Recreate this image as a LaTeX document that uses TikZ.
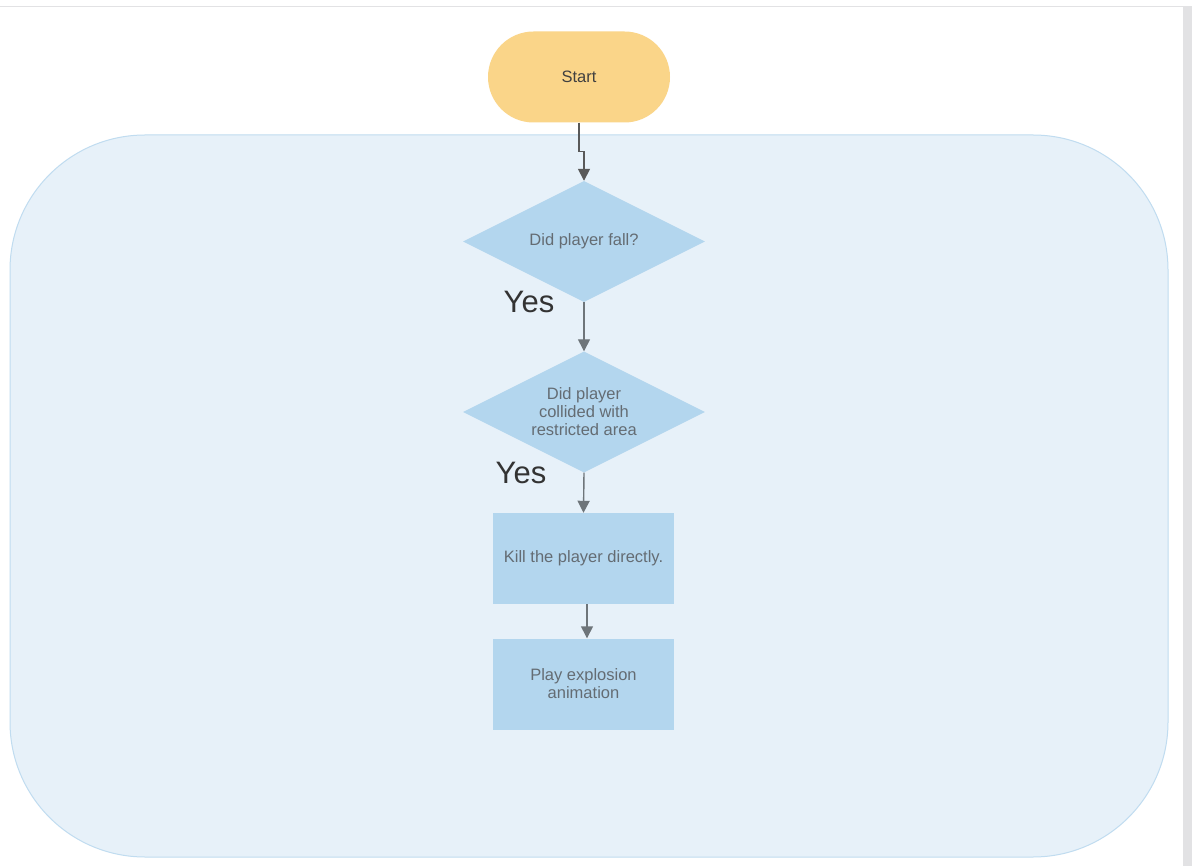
\documentclass[tikz,border=0pt]{standalone}
\usepackage{fontspec}
\setmainfont{Liberation Sans}
\usetikzlibrary{arrows.meta,shapes.geometric}
\definecolor{startfill}{HTML}{FAD589}
\definecolor{boxfill}{HTML}{B3D6EE}
\definecolor{areafill}{HTML}{E7F1F9}
\definecolor{arealine}{HTML}{C0DCF0}
\definecolor{labeltext}{HTML}{646C73}
\definecolor{linkcol}{HTML}{6E757A}
\definecolor{framegray}{HTML}{E2E2E4}
\begin{document}
\begin{tikzpicture}[x=1pt,y=-1pt,
  every node/.style={font=\fontsize{16.5}{19}\selectfont, text=labeltext, align=center},
  area/.style={draw=arealine, line width=1pt, fill=areafill, rounded corners=135pt,
    minimum width=1158pt, minimum height=722pt, inner sep=0pt},
  terminal/.style={fill=startfill, rounded corners=45.5pt, minimum width=182pt,
    minimum height=91pt, inner sep=0pt, text=black!75},
  decision/.style={diamond, fill=boxfill, minimum width=242pt, minimum height=121pt,
    inner sep=0pt, shape aspect=2},
  process/.style={rectangle, fill=boxfill, minimum width=181pt, minimum height=91pt,
    inner sep=0pt},
  answer/.style={font=\fontsize{31}{36}\selectfont, text=black!80, inner sep=0pt},
  link/.style={draw=linkcol, line width=1.4pt, -{Triangle[length=12pt,width=12pt]}},
]
\useasboundingbox (0,0) rectangle (1192,866);
\fill[white] (0,0) rectangle (1192,866);
% page frame: top rule and right scrollbar strip
\fill[framegray] (1183,6) rectangle (1192,866);
\draw[framegray, line width=1.2pt] (0,6.5) -- (1183,6.5);

% container
\node[area] (area) at (589,496) {};

% flow nodes
\node[terminal] (start) at (579,77) {Start};
\node[decision] (fall) at (584,241.5) {Did player fall?};
\node[decision] (hit) at (584,412) {Did player\\[-1pt]collided with\\[-1pt]restricted area};
\node[process] (kill) at (583.5,558.5) {\raisebox{-2pt}{Kill the player directly.}};
\node[process] (boom) at (583.5,684) {Play explosion\\[-1pt]animation};

% branch labels
\node[answer] (yes1) at (529,302) {Yes};
\node[answer] (yes2) at (521,473) {Yes};

% connectors
\draw[link, draw=black!65, line width=1.6pt] (start.south) -- ++(0,29) -| (fall.north);
\draw[link] (fall.south) -- (hit.north);
\draw[link] (hit.south) -- (kill.north);
\draw[link] ([xshift=3.5pt]kill.south) -- ([xshift=3.5pt]boom.north);
\end{tikzpicture}
\end{document}
